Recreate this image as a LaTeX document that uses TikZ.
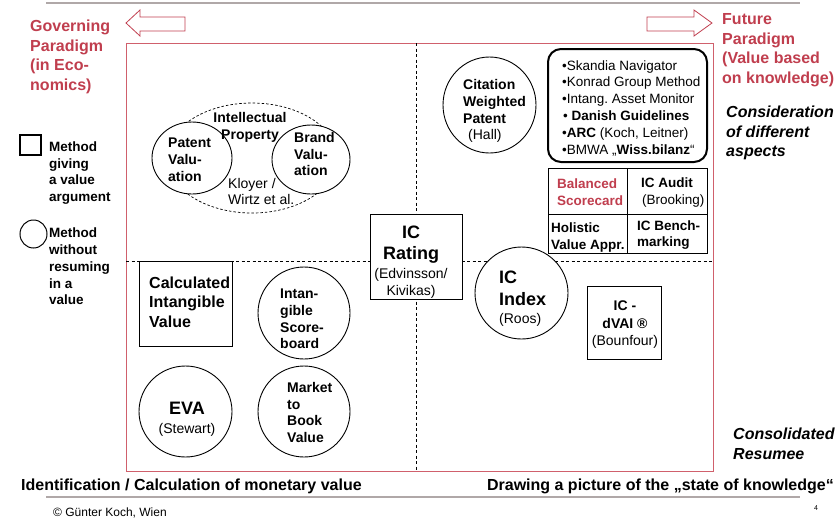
\documentclass[tikz,border=0pt]{standalone}
\usepackage{fontspec}
\setmainfont{Liberation Sans}
\usetikzlibrary{shapes.geometric}
\frenchspacing

\definecolor{parared}{RGB}{192,62,78}
\definecolor{framered}{RGB}{208,96,108}
\definecolor{rulegray}{RGB}{176,168,168}

\newcommand{\fs}[2]{\fontsize{#1}{#2}\selectfont}

\tikzset{
  method/.style={ellipse, draw, line width=0.9pt, fill=white, inner sep=0pt},
  valuebox/.style={rectangle, draw, line width=0.9pt, fill=white, inner sep=0pt},
  methtext/.style={align=left, inner sep=0pt, font=\bfseries\fs{14}{16.8}},
  listtext/.style={align=left, inner sep=0pt, font=\fs{13.5}{16.8}},
  paradigm/.style={align=left, inner sep=0pt, text=parared, font=\bfseries\fs{16}{19.5}},
  aspect/.style={align=left, inner sep=0pt, font=\bfseries\itshape\fs{16}{19.5}},
  axistext/.style={inner sep=0pt, font=\bfseries\fs{16}{19}},
  quadline/.style={line width=0.9pt, dash pattern=on 3pt off 2.5pt},
}

\begin{document}
\begin{tikzpicture}[x=1pt,y=-1pt]
\useasboundingbox (0,0) rectangle (838,523);

% rules, frame and quadrants
\draw[rulegray, line width=1.5pt] (46,3) -- (800,3);
\draw[rulegray, line width=1.5pt] (46,497) -- (800,497);
\draw[framered, line width=1pt] (126,43) rectangle (713,471);
\draw[quadline] (416,43) -- (416,471);
\draw[quadline] (126,261) -- (713,261);

% paradigm arrows
\draw[parared, line width=0.8pt] (126,23) -- (140,10) -- (140,17) -- (185,17) -- (185,31) -- (140,31) -- (140,36) -- cycle;
\draw[parared, line width=0.8pt] (712,23) -- (694,10) -- (694,17) -- (647,17) -- (647,31) -- (694,31) -- (694,36) -- cycle;
\node[paradigm, anchor=west] (govern) at (30,57) {Governing\\Paradigm\\(in Eco-\\nomics)};
\node[paradigm, anchor=west] (future) at (722,50) {Future\\Paradigm\\(Value based\\on knowledge)};
\node[aspect, anchor=west] (consider) at (726,133) {Consideration\\of different\\aspects};
\node[aspect, anchor=west] (resumee) at (733,444) {Consolidated\\Resumee};

% legend
\node[valuebox, line width=1.6pt, minimum width=21, minimum height=20] (legbox) at (30.5,145) {};
\node[methtext, font=\bfseries\fs{13.5}{16.5}, anchor=west] (legboxtext) at (49,173) {Method\\giving\\a value\\argument};
\node[method, line width=1pt, minimum width=27, minimum height=28] (legcirc) at (33.5,234) {};
\node[methtext, font=\bfseries\fs{13.5}{16.7}, anchor=west] (legcirctext) at (49,266.5) {Method\\without\\resuming\\in a\\value};

% upper left: intellectual property
\node[ellipse, draw, line width=0.7pt, dash pattern=on 2.5pt off 2pt, minimum width=170, minimum height=110] (ip) at (252,158) {};
\node[method, minimum width=80, minimum height=72] (patent) at (192,158) {};
\node[method, minimum width=78, minimum height=69] (brand) at (311,159.5) {};
\node[methtext, align=center] (iptext) at (250,127) {Intellectual\\Property};
\node[methtext, anchor=west] at (168,160) {Patent\\Valu-\\ation};
\node[methtext, anchor=west] at (294,154) {Brand\\Valu-\\ation};
\node[methtext, font=\fs{14}{16.8}, anchor=west] (kloyer) at (228,191.5) {Kloyer /\\Wirtz et al.};

% centre
\node[valuebox, minimum width=92, minimum height=85] (rating) at (416,256.5) {};
\node[align=center, inner sep=0pt, font=\fs{14}{19}] (ratingtext) at (411,262) {{\bfseries\fs{18}{19}IC}\\[2pt]{\bfseries\fs{18}{19}Rating}\\(Edvinsson/\\[-2pt]Kivikas)};

% upper right
\node[method, minimum width=93, minimum height=96] (citation) at (489.5,105) {};
\node[methtext, anchor=west] (citetext) at (463,111) {Citation\\Weighted\\Patent\\\mdseries\hspace{5pt}(Hall)};
\node[rectangle, draw, rounded corners=13pt, line width=2pt, minimum width=159, minimum height=113] (scorelist) at (627.5,105.5) {};
\node[listtext, anchor=west] (listtext) at (562,108) {•Skandia Navigator\\•Konrad Group Method\\•Intang. Asset Monitor\\\hspace{1pt}• \textbf{Danish Guidelines}\\•\textbf{ARC} (Koch, Leitner)\\•BMWA „\textbf{Wiss.bilanz}“};
\node[valuebox, anchor=north west, minimum width=79, minimum height=46] (bsc) at (548,168) {};
\node[valuebox, anchor=north west, minimum width=80, minimum height=46] (audit) at (627,168) {};
\node[valuebox, anchor=north west, minimum width=79, minimum height=39] (holistic) at (548,214) {};
\node[valuebox, anchor=north west, minimum width=80, minimum height=39] (bench) at (627,214) {};
\node[methtext, font=\bfseries\fs{13.5}{16.8}, text=parared, anchor=west] at (557,192.5) {Balanced\\Scorecard};
\node[methtext, font=\bfseries\fs{13.5}{16.8}, anchor=west] at (641,192.5) {IC Audit\\\mdseries\hspace{1pt}(Brooking)};
\node[methtext, font=\bfseries\fs{13.5}{16.8}, anchor=west] at (551,237.5) {Holistic\\Value Appr.};
\node[methtext, font=\bfseries\fs{13.5}{16.8}, anchor=west] at (637,235) {IC Bench-\\marking};

% lower left
\node[valuebox, minimum width=93, minimum height=85] (civ) at (185.5,303.5) {};
\node[methtext, font=\bfseries\fs{16}{19.5}, anchor=west] at (149,302) {Calculated\\Intangible\\Value};
\node[method, minimum width=92, minimum height=92] (scoreboard) at (304,313) {};
\node[methtext, anchor=west] at (280,319) {Intan-\\gible\\Score-\\board};
\node[method, minimum width=93, minimum height=91] (eva) at (185.5,411.5) {};
\node[align=center, inner sep=0pt, font=\fs{14}{19}] (evatext) at (187,419) {{\bfseries\fs{18}{19}EVA}\\(Stewart)};
\node[method, minimum width=92, minimum height=91] (market) at (304,411.5) {};
\node[methtext, anchor=west] at (287,412.5) {Market\\to\\Book\\Value};

% lower right
\node[method, minimum width=93, minimum height=92] (icindex) at (521.5,293) {};
\node[align=left, inner sep=0pt, anchor=west, font=\fs{14}{20}] (indextext) at (499,299) {{\bfseries\fs{18}{20}IC}\\[2pt]{\bfseries\fs{18}{20}Index}\\[-2pt](Roos)};
\node[valuebox, minimum width=74, minimum height=73] (dvai) at (624,322.5) {};
\node[align=center, inner sep=0pt, font=\fs{14}{17.5}] (dvaitext) at (625,325) {\textbf{IC -}\\\textbf{dVAI ®}\\(Bounfour)};

% axis captions
\node[axistext, anchor=west] (monetary) at (21,486) {Identification / Calculation of monetary value};
\node[axistext, anchor=east] (knowledge) at (834,486) {Drawing a picture of the „state of knowledge“};
\node[inner sep=0pt, anchor=west, font=\fs{12}{14}] (copy) at (53,513) {© Günter Koch, Wien};
\node[inner sep=0pt, font=\fs{7}{8}] (page) at (816,508) {4};
\end{tikzpicture}
\end{document}
